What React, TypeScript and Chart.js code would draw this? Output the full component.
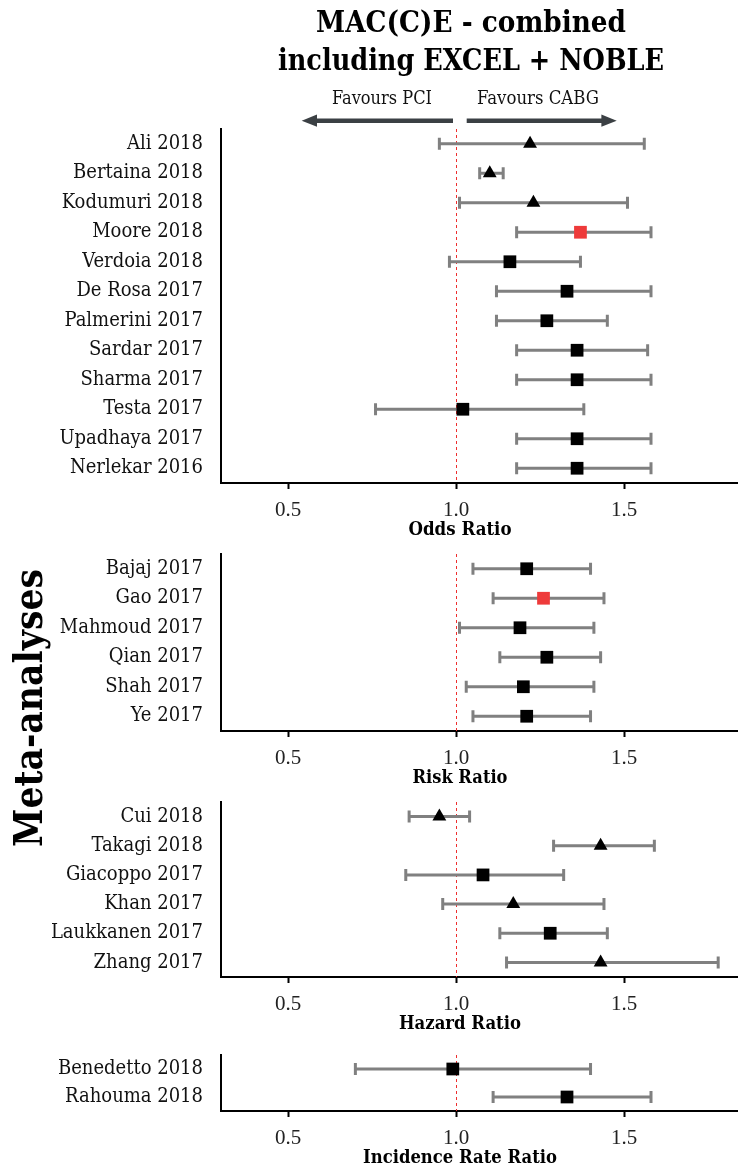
import React, { useEffect, useRef } from 'react';
import { Chart, registerables } from 'chart.js';

Chart.register(...registerables);

// ---------- data ----------
const oddsStudies = ['Ali 2018', 'Bertaina 2018', 'Kodumuri 2018', 'Moore 2018', 'Verdoia 2018', 'De Rosa 2017', 'Palmerini 2017', 'Sardar 2017', 'Sharma 2017', 'Testa 2017', 'Upadhaya 2017', 'Nerlekar 2016'];
const oddsEst = [1.22, 1.10, 1.23, 1.37, 1.16, 1.33, 1.27, 1.36, 1.36, 1.02, 1.36, 1.36];
const oddsLow = [0.95, 1.07, 1.01, 1.18, 0.98, 1.12, 1.12, 1.18, 1.18, 0.76, 1.18, 1.18];
const oddsHigh = [1.56, 1.14, 1.51, 1.58, 1.37, 1.58, 1.45, 1.57, 1.58, 1.38, 1.58, 1.58];
const oddsShape = ['triangle', 'triangle', 'triangle', 'rect', 'rect', 'rect', 'rect', 'rect', 'rect', 'rect', 'rect', 'rect'];
const oddsHighlight = [false, false, false, true, false, false, false, false, false, false, false, false];

const riskStudies = ['Bajaj 2017', 'Gao 2017', 'Mahmoud 2017', 'Qian 2017', 'Shah 2017', 'Ye 2017'];
const riskEst = [1.21, 1.26, 1.19, 1.27, 1.20, 1.21];
const riskLow = [1.05, 1.11, 1.01, 1.13, 1.03, 1.05];
const riskHigh = [1.40, 1.44, 1.41, 1.43, 1.41, 1.40];
const riskShape = ['rect', 'rect', 'rect', 'rect', 'rect', 'rect'];
const riskHighlight = [false, true, false, false, false, false];

const hazardStudies = ['Cui 2018', 'Takagi 2018', 'Giacoppo 2017', 'Khan 2017', 'Laukkanen 2017', 'Zhang 2017'];
const hazardEst = [0.95, 1.43, 1.08, 1.17, 1.28, 1.43];
const hazardLow = [0.86, 1.29, 0.85, 0.96, 1.13, 1.15];
const hazardHigh = [1.04, 1.59, 1.32, 1.44, 1.45, 1.78];
const hazardShape = ['triangle', 'triangle', 'rect', 'triangle', 'rect', 'triangle'];
const hazardHighlight = [false, false, false, false, false, false];

const irrStudies = ['Benedetto 2018', 'Rahouma 2018'];
const irrEst = [0.99, 1.33];
const irrLow = [0.70, 1.11];
const irrHigh = [1.40, 1.58];
const irrShape = ['rect', 'rect'];
const irrHighlight = [false, false];

const xTicks = [0.5, 1.0, 1.5];
const X_MIN = 0.3;
const X_MAX = 1.836;
const NULL_VALUE = 1.0;

const titleLines = ['MAC(C)E - combined', 'including EXCEL + NOBLE'];
const favoursLeft = 'Favours PCI';
const favoursRight = 'Favours CABG';
const yTitle = 'Meta-analyses';

// ---------- styling ----------
const W = 746;
const H = 1172;
const AXIS_LEFT = 221;
const PAD_TOP = 14;
const X_AXIS_H = 58;
const SERIF_C = "'DejaVu Serif Condensed', 'DejaVu Serif', serif";
const CI_COLOR = '#808080';
const RED = '#ee3a3a';
const REF_RED = '#ee2e2e';
const DARK = '#3b4044';

type PanelProps = {
  labels: string[];
  est: number[];
  low: number[];
  high: number[];
  shape: string[];
  highlight: boolean[];
  top: number;
  bottom: number;
};

function ForestPanel({ labels, est, low, high, shape, highlight, top, bottom }: PanelProps) {
  const ref = useRef<HTMLCanvasElement | null>(null);
  const height = PAD_TOP + (bottom - top) + X_AXIS_H;

  useEffect(() => {
    if (!ref.current) return;
    const whiskers = {
      id: 'whiskers',
      beforeDatasetsDraw(chart: any) {
        const { ctx, chartArea, scales } = chart;
        const xs = scales.x;
        const ys = scales.y;
        ctx.save();
        const xr = xs.getPixelForValue(NULL_VALUE);
        ctx.strokeStyle = REF_RED;
        ctx.lineWidth = 1;
        ctx.setLineDash([3, 3]);
        ctx.beginPath();
        ctx.moveTo(Math.round(xr) + 0.5, chartArea.top);
        ctx.lineTo(Math.round(xr) + 0.5, chartArea.bottom);
        ctx.stroke();
        ctx.setLineDash([]);
        ctx.strokeStyle = CI_COLOR;
        ctx.lineWidth = 3;
        labels.forEach((_, i) => {
          const py = ys.getPixelForValue(i);
          const xl = xs.getPixelForValue(low[i]);
          const xh = xs.getPixelForValue(high[i]);
          ctx.beginPath();
          ctx.moveTo(xl, py);
          ctx.lineTo(xh, py);
          ctx.moveTo(xl, py - 6);
          ctx.lineTo(xl, py + 6);
          ctx.moveTo(xh, py - 6);
          ctx.lineTo(xh, py + 6);
          ctx.stroke();
        });
        ctx.restore();
      },
    };

    const colors = highlight.map((h) => (h ? RED : '#000000'));
    const chart = new Chart(ref.current, {
      type: 'scatter',
      data: {
        datasets: [
          {
            data: labels.map((l, i) => ({ x: est[i], y: l })) as any,
            pointStyle: shape as any,
            pointRadius: shape.map((s) => (s === 'rect' ? 9 : 8)),
            backgroundColor: colors,
            borderColor: colors,
            borderWidth: 0,
          },
        ],
      },
      options: {
        animation: false,
        responsive: false,
        maintainAspectRatio: false,
        events: [],
        layout: { padding: { top: PAD_TOP, left: 0, right: 0, bottom: 0 } },
        plugins: { legend: { display: false }, tooltip: { enabled: false } },
        scales: {
          x: {
            type: 'linear',
            min: X_MIN,
            max: X_MAX,
            afterBuildTicks: (ax: any) => {
              ax.ticks = xTicks.map((v) => ({ value: v }));
            },
            afterFit: (s: any) => {
              s.height = X_AXIS_H;
              s.paddingLeft = 0;
              s.paddingRight = 0;
            },
            ticks: {
              callback: (v: any) => Number(v).toFixed(1),
              font: { family: "'Liberation Serif', serif", size: 21 },
              color: '#222222',
              padding: 9,
              maxRotation: 0,
            },
            grid: {
              display: true,
              drawOnChartArea: false,
              drawTicks: true,
              tickLength: 6,
              tickWidth: 2,
              tickColor: '#000000',
              color: '#000000',
            },
            border: { display: true, color: '#000000', width: 2 },
          },
          y: {
            type: 'category',
            labels: labels,
            offset: true,
            afterFit: (s: any) => {
              s.width = AXIS_LEFT;
              s.paddingTop = 0;
              s.paddingBottom = 0;
            },
            ticks: {
              font: { family: SERIF_C, size: 20 },
              color: '#111111',
              padding: 18,
              autoSkip: false,
            },
            grid: { display: true, drawOnChartArea: false, drawTicks: false },
            border: { display: true, color: '#000000', width: 2 },
          },
        } as any,
      },
      plugins: [whiskers],
    } as any);
    return () => chart.destroy();
  }, []);

  return (
    <canvas
      ref={ref}
      width={W}
      height={height}
      style={{ position: 'absolute', left: 0, top: top - PAD_TOP, width: W, height }}
    />
  );
}

const panels = [
  { labels: oddsStudies, est: oddsEst, low: oddsLow, high: oddsHigh, shape: oddsShape, highlight: oddsHighlight, top: 129, bottom: 483, title: 'Odds Ratio', titleW: 103 },
  { labels: riskStudies, est: riskEst, low: riskLow, high: riskHigh, shape: riskShape, highlight: riskHighlight, top: 554, bottom: 731, title: 'Risk Ratio', titleW: 95 },
  { labels: hazardStudies, est: hazardEst, low: hazardLow, high: hazardHigh, shape: hazardShape, highlight: hazardHighlight, top: 802, bottom: 977, title: 'Hazard Ratio', titleW: 122 },
  { labels: irrStudies, est: irrEst, low: irrLow, high: irrHigh, shape: irrShape, highlight: irrHighlight, top: 1055, bottom: 1111, title: 'Incidence Rate Ratio', titleW: 194 },
];

export default function App() {
  return (
    <div style={{ position: 'fixed', left: 0, top: 0, width: W, height: H, background: '#ffffff', overflow: 'hidden' }}>
      {panels.map((p, i) => (
        <ForestPanel key={i} {...p} />
      ))}
      <svg width={W} height={H} style={{ position: 'absolute', left: 0, top: 0, pointerEvents: 'none' }}>
        <g fontFamily={SERIF_C} fill="#000" style={{ fontStretch: 'condensed' }}>
          <text x={471} y={32} textAnchor="middle" fontWeight="bold" fontSize={30} textLength={310} lengthAdjust="spacingAndGlyphs">
            {titleLines[0]}
          </text>
          <text x={471} y={70} textAnchor="middle" fontWeight="bold" fontSize={30} textLength={386} lengthAdjust="spacingAndGlyphs">
            {titleLines[1]}
          </text>
          <text x={382} y={104} textAnchor="middle" fontSize={18} fill="#111" textLength={100} lengthAdjust="spacingAndGlyphs">
            {favoursLeft}
          </text>
          <text x={538} y={104} textAnchor="middle" fontSize={18} fill="#111" textLength={122} lengthAdjust="spacingAndGlyphs">
            {favoursRight}
          </text>
          {panels.map((p, i) => (
            <text key={i} x={460} y={p.bottom + 52} textAnchor="middle" fontWeight="bold" fontSize={18} textLength={p.titleW} lengthAdjust="spacingAndGlyphs">
              {p.title}
            </text>
          ))}
          <text transform="translate(42,708) rotate(-90)" textAnchor="middle" fontWeight="bold" fontSize={40} textLength={278} lengthAdjust="spacingAndGlyphs">
            {yTitle}
          </text>
        </g>
        <g>
          <line x1={453} y1={120.7} x2={314} y2={120.7} stroke={DARK} strokeWidth={4.5} />
          <polygon points="301.7,120.7 317,114.6 317,126.8" fill={DARK} />
          <line x1={466.7} y1={120.7} x2={604} y2={120.7} stroke={DARK} strokeWidth={4.5} />
          <polygon points="616.7,120.7 601.4,114.6 601.4,126.8" fill={DARK} />
        </g>
      </svg>
    </div>
  );
}
